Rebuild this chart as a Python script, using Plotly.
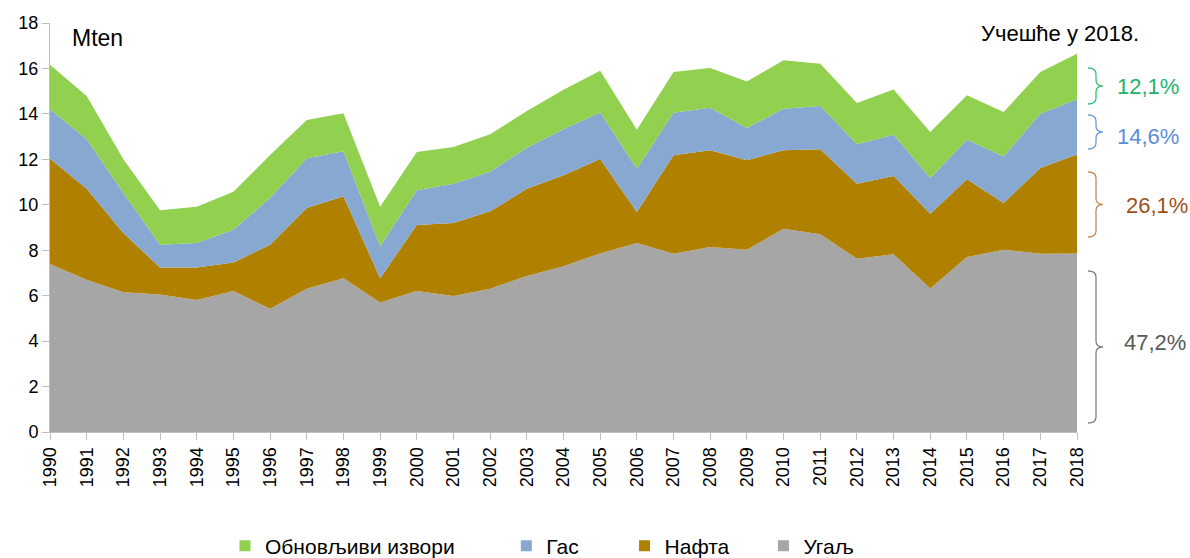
import plotly.graph_objects as go

years = list(range(1990, 2019))
coal = [7.39, 6.70, 6.15, 6.05, 5.81, 6.21, 5.42, 6.30, 6.77, 5.70, 6.21, 5.99, 6.30, 6.87, 7.29,
        7.86, 8.32, 7.85, 8.14, 8.02, 8.95, 8.70, 7.63, 7.82, 6.31, 7.70, 8.02, 7.85, 7.86]
oil = [4.64, 4.00, 2.61, 1.19, 1.43, 1.25, 2.82, 3.56, 3.61, 1.07, 2.90, 3.21, 3.41, 3.83, 4.01,
       4.16, 1.36, 4.33, 4.26, 3.94, 3.45, 3.74, 3.30, 3.45, 3.30, 3.42, 2.06, 3.77, 4.35]
gas = [2.17, 2.18, 1.76, 1.00, 1.08, 1.44, 2.06, 2.19, 1.98, 1.40, 1.53, 1.72, 1.74, 1.81, 2.02,
       2.04, 1.91, 1.87, 1.87, 1.42, 1.83, 1.91, 1.73, 1.81, 1.57, 1.74, 2.05, 2.39, 2.43]
ren = [1.96, 1.91, 1.48, 1.52, 1.59, 1.67, 1.89, 1.68, 1.67, 1.74, 1.68, 1.62, 1.65, 1.62, 1.74,
       1.84, 1.71, 1.79, 1.75, 2.05, 2.13, 1.86, 1.82, 1.99, 2.02, 1.96, 1.95, 1.83, 2.01]

names = ["Угаљ", "Нафта", "Гас", "Обновљиви извори"]
colors = ["#A6A6A6", "#B08000", "#87A8D1", "#92D050"]
shares = ["47,2%", "26,1%", "14,6%", "12,1%"]
share_colors = ["#595959", "#9E4F1C", "#5B8ED6", "#1DB36A"]
brace_colors = ["#808080", "#C08A5A", "#6A9AE0", "#3CC07A"]
yticks = list(range(0, 19, 2))

FONT = "Liberation Sans"
W, H = 1190, 558
L, R, T, B = 50, 1077, 23, 432  # plot area in px

fig = go.Figure()
for vals, nm, col in zip([coal, oil, gas, ren], names, colors):
    fig.add_trace(go.Scatter(x=years, y=vals, name=nm, stackgroup="one", mode="lines",
                             line=dict(width=0, color=col), fillcolor=col,
                             showlegend=False, hoverinfo="skip"))
# legend entries (square markers)
pads = [8, 7, 5, 0]
for nm, col, p in zip(names[::-1], colors[::-1], pads):
    fig.add_trace(go.Scatter(x=[None], y=[None], mode="markers", name=nm + "\u00a0" * p,
                             marker=dict(symbol="square", size=11, color=col)))

def px2paper_x(px):
    return (px - L) / (R - L)

def px2paper_y(py):
    return (B - py) / (B - T)

def brace(ytop, ybot, xl=1088, xm=1096, xt=1103, r=6):
    ym = (ytop + ybot) / 2
    pts = [
        ("M", [(xl, ytop)]),
        ("Q", [(xm, ytop), (xm, ytop + r)]),
        ("L", [(xm, ym - r)]),
        ("Q", [(xm, ym), (xt, ym)]),
        ("Q", [(xm, ym), (xm, ym + r)]),
        ("L", [(xm, ybot - r)]),
        ("Q", [(xm, ybot), (xl, ybot)]),
    ]
    s = ""
    for cmd, ps in pts:
        s += cmd + " " + " ".join(f"{px2paper_x(a):.5f},{px2paper_y(b):.5f}" for a, b in ps) + " "
    return s.strip()

braces_px = [(271, 423), (172, 237), (115, 149), (68, 104)]
label_px = [(1155, 342), (1157, 205), (1148, 136), (1148, 86)]
shapes = []
annotations = []
for (yt, yb), (lx, ly), txt, tc, bc in zip(braces_px, label_px, shares, share_colors, brace_colors):
    shapes.append(dict(type="path", xref="paper", yref="paper", path=brace(yt, yb),
                       line=dict(color=bc, width=1.3)))
    annotations.append(dict(x=px2paper_x(lx), y=px2paper_y(ly), xref="paper", yref="paper",
                            text=txt, showarrow=False, xanchor="center", yanchor="middle",
                            font=dict(family=FONT, size=22, color=tc)))

annotations.append(dict(x=px2paper_x(70), y=px2paper_y(38), xref="paper", yref="paper",
                        text="Mten", showarrow=False, xanchor="left", yanchor="middle",
                        font=dict(family=FONT, size=23, color="#000000")))
annotations.append(dict(x=px2paper_x(1141), y=px2paper_y(33), xref="paper", yref="paper",
                        text="Учешће у 2018.", showarrow=False, xanchor="right", yanchor="middle",
                        font=dict(family=FONT, size=22, color="#000000")))

fig.update_layout(
    width=W, height=H,
    margin=dict(l=L, r=W - R, t=T, b=H - B, autoexpand=False),
    paper_bgcolor="white", plot_bgcolor="white",
    font=dict(family=FONT, size=18, color="#000000"),
    shapes=shapes, annotations=annotations,
    showlegend=True,
    legend=dict(orientation="h", traceorder="normal",
                x=px2paper_x(225), xanchor="left",
                yref="container", y=1 - 546 / H, yanchor="middle",
                font=dict(family=FONT, size=21, color="#000000"),
                itemwidth=30, tracegroupgap=0, bgcolor="rgba(0,0,0,0)"),
    xaxis=dict(range=[1990, 2018], tickmode="array", tickvals=years,
               ticktext=[str(y) for y in years], tickangle=-90,
               showgrid=False, zeroline=False, showline=True, linecolor="#BFBFBF", linewidth=1,
               ticks="outside", ticklen=7, tickcolor="#BFBFBF",
               tickfont=dict(family=FONT, size=18, color="#000000")),
    yaxis=dict(range=[0, 18], tickmode="array", tickvals=yticks,
               showgrid=False, zeroline=False, showline=True, linecolor="#BFBFBF", linewidth=1,
               ticks="outside", ticklen=7, tickcolor="#BFBFBF",
               tickfont=dict(family=FONT, size=18, color="#000000")),
)

fig.write_html("out.html", config={"displayModeBar": False},
               post_script="document.body.style.margin='0';document.body.style.overflow='hidden';")
